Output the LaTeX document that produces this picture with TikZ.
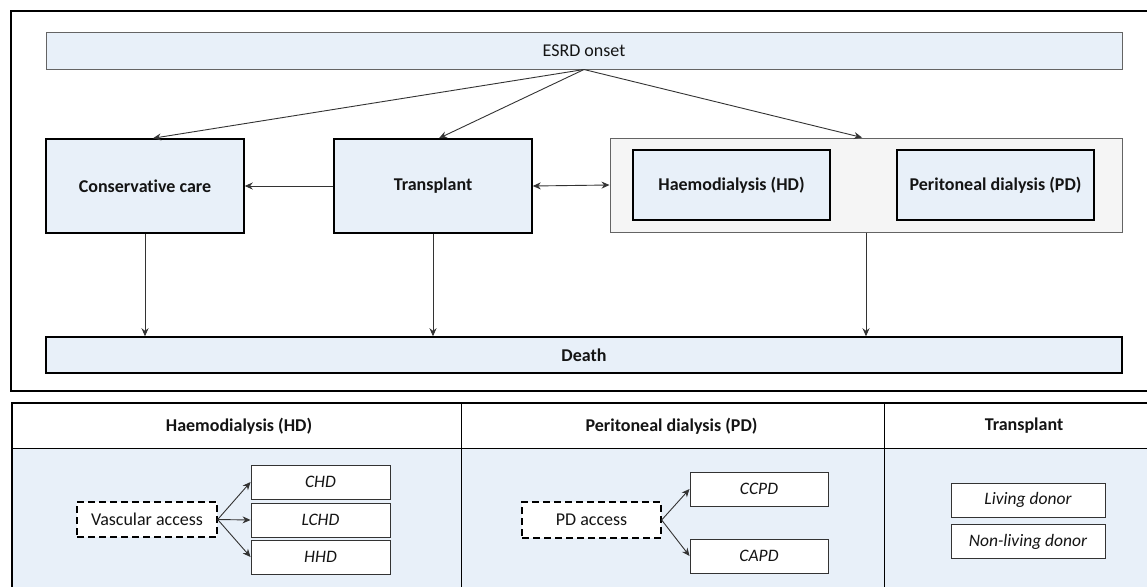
\documentclass[tikz,border=0pt]{standalone}
\usepackage{fontspec}
\setmainfont{Carlito}[Ligatures=NoCommon]
\usetikzlibrary{arrows.meta,calc}
\definecolor{lblue}{RGB}{232,240,249}
\definecolor{lgray}{RGB}{245,245,245}
\definecolor{bgray}{RGB}{100,100,100}
\definecolor{txt}{RGB}{20,20,20}
\begin{document}
\begin{tikzpicture}[x=1pt,y=-1pt,
  every node/.style={font=\fontsize{18}{21}\selectfont, text=txt},
  bar/.style={draw=bgray, fill=lblue, line width=1pt, minimum width=1076pt, minimum height=36pt, inner sep=0pt},
  bigbox/.style={draw=black, fill=lblue, line width=1.5pt, minimum width=198pt, minimum height=94pt, inner sep=0pt, font=\fontsize{18}{21}\selectfont\bfseries},
  inbox/.style={draw=black, fill=lblue, line width=1.5pt, minimum width=197pt, minimum height=70pt, inner sep=0pt, font=\fontsize{18}{21}\selectfont\bfseries},
  subbox/.style={draw=black!80, fill=white, line width=0.9pt, minimum width=139pt, minimum height=34pt, inner sep=0pt, font=\fontsize{17.5}{21}\selectfont\itshape},
  accbox/.style={draw=black, fill=white, line width=1.3pt, dash pattern=on 7pt off 4pt, minimum width=140pt, minimum height=35pt, inner sep=0pt},
  hdr/.style={font=\fontsize{18}{21}\selectfont\bfseries},
  arr/.style={-{Stealth[length=8pt,width=7pt]}, line width=0.9pt, draw=black!80},
  frame/.style={line width=2.2pt, draw=black}
]
\clip (0,0) rectangle (1147,586);
\fill[white] (0,0) rectangle (1147,586);

% ---------- top panel ----------
\draw[frame] (11,11) rectangle (1160,391);

\node[bar] (esrd) at (584,51) {ESRD onset};
\node[bigbox] (cons) at (145,186) {Conservative care};
\node[bigbox] (trans) at (433,186) {Transplant};
\node[draw=bgray, fill=lgray, line width=1pt, minimum width=512pt, minimum height=94pt, inner sep=0pt] (dial) at (866,185) {};
\node[inbox] (hd) at (731.5,185) {Haemodialysis (HD)};
\node[inbox] (pd) at (995.5,185) {Peritoneal dialysis (PD)};
\node[bar, draw=black, line width=1.5pt, font=\fontsize{18}{21}\selectfont\bfseries] (death) at (584,355) {Death};

\draw[arr] (esrd.south) -- ([xshift=8pt]cons.north);
\draw[arr] (esrd.south) -- ([xshift=6pt]trans.north);
\draw[arr] (esrd.south) -- ([xshift=-4pt]dial.north);
\draw[arr] (trans.west) -- (cons.east);
\draw[arr, {Stealth[length=8pt,width=7pt]}-{Stealth[length=8pt,width=7pt]}] (trans.east) -- (dial.west);
\draw[arr] (cons.south) -- (cons.south |- death.north);
\draw[arr] (trans.south) -- (trans.south |- death.north);
\draw[arr] (dial.south) -- (dial.south |- death.north);

% ---------- bottom panel ----------
\fill[lblue] (12,448) rectangle (1160,600);
\draw[line width=1pt] (12,448) -- (1160,448);
\draw[line width=1pt] (461,403) -- (461,600);
\draw[line width=1pt] (884,403) -- (884,600);
\draw[frame] (12,403) rectangle (1160,620);

\node[hdr] (h1) at (239,426) {Haemodialysis (HD)};
\node[hdr] (h2) at (671.5,426) {Peritoneal dialysis (PD)};
\node[hdr] (h3) at (1024,426) {Transplant};

\node[accbox] (vasc) at (147,519.5) {Vascular access};
\node[subbox] (chd) at (320.5,482) {CHD};
\node[subbox] (lchd) at (320.5,520) {LCHD};
\node[subbox] (hhd) at (320.5,557) {HHD};
\draw[arr] (vasc.east) -- (chd.west);
\draw[arr] (vasc.east) -- (lchd.west);
\draw[arr] (vasc.east) -- (hhd.west);

\node[accbox, minimum width=139pt, minimum height=36pt] (pdacc) at (591.5,520) {PD access};
\node[subbox, minimum width=138pt] (ccpd) at (759,489) {CCPD};
\node[subbox, minimum width=138pt] (capd) at (759,556) {CAPD};
\draw[arr] (pdacc.east) -- (ccpd.west);
\draw[arr] (pdacc.east) -- (capd.west);

\node[subbox, minimum width=154pt] (liv) at (1028,500) {Living donor};
\node[subbox, minimum width=154pt] (nliv) at (1028,541.5) {Non-living donor};
\end{tikzpicture}
\end{document}
